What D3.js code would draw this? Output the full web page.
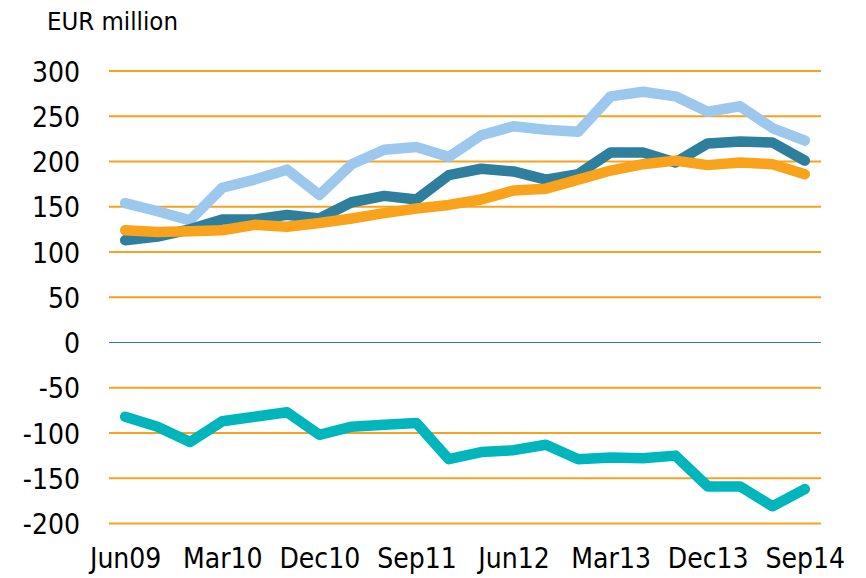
<!DOCTYPE html>
<html>
<head>
<meta charset="utf-8">
<script src="https://cdn.jsdelivr.net/npm/d3@7"></script>
<style>
  html, body { margin: 0; padding: 0; background: #fff; }
  svg text { font-family: "DejaVu Sans Condensed", "DejaVu Sans", sans-serif; fill: #000; }
</style>
</head>
<body>
<svg id="chart" width="866" height="578"></svg>
<script>
// Quarterly periods, Jun09 .. Sep14
const quarters = [
  "Jun09","Sep09","Dec09","Mar10","Jun10","Sep10","Dec10","Mar11","Jun11","Sep11","Dec11",
  "Mar12","Jun12","Sep12","Dec12","Mar13","Jun13","Sep13","Dec13","Mar14","Jun14","Sep14"
];
const tickLabels = ["Jun09","Mar10","Dec10","Sep11","Jun12","Mar13","Dec13","Sep14"];
const yTicks = [-200, -150, -100, -50, 0, 50, 100, 150, 200, 250, 300];

// EUR million
const lightBlueSeries = [154, 145, 135, 171, 180, 191, 163, 197, 213, 216, 205,
                         229, 239, 235, 233, 272, 277, 272, 255, 261, 237, 223];
const darkTealSeries  = [113, 117, 125, 136, 136, 141, 137, 155, 162, 158, 185,
                         192, 189, 180, 186, 210, 210, 199, 220, 222, 221, 201];
const orangeSeries    = [124, 122, 123, 124, 130, 128, 132, 137, 143, 148, 152,
                         158, 168, 170, 180, 190, 197, 201, 196, 199, 197, 186];
const turquoiseSeries = [-82, -93, -110, -87, -82, -77, -102, -93, -91, -89, -129,
                         -121, -119, -113, -129, -127, -128, -125, -159, -159, -181, -162];

const series = [
  { values: lightBlueSeries, color: "#9DC8EE" },
  { values: darkTealSeries,  color: "#2E7F9E" },
  { values: orangeSeries,    color: "#F9A21B" },
  { values: turquoiseSeries, color: "#00B5BC" }
];

const svg = d3.select("#chart");
const plotLeft = 109, plotRight = 821, plotTop = 71, plotBottom = 523.5;

const x = d3.scalePoint().domain(quarters).range([plotLeft, plotRight]).padding(0.5);
const y = d3.scaleLinear().domain([-200, 300]).range([plotBottom, plotTop]);

// Horizontal gridlines
svg.append("g").selectAll("line")
  .data(yTicks.filter(d => d !== 0))
  .join("line")
  .attr("x1", plotLeft).attr("x2", plotRight)
  .attr("y1", d => y(d)).attr("y2", d => y(d))
  .attr("stroke", "#F9A21B").attr("stroke-width", 2);

// Zero line
svg.append("line")
  .attr("x1", plotLeft).attr("x2", plotRight)
  .attr("y1", y(0)).attr("y2", y(0))
  .attr("stroke", "#2E7F9E").attr("stroke-width", 1);

// Y axis labels (plain hyphen for negatives)
const yAxis = d3.axisLeft(y).tickValues(yTicks).tickSize(0).tickPadding(0)
  .tickFormat(d => String(d));
const gy = svg.append("g").attr("transform", "translate(80,0)").call(yAxis);
gy.select(".domain").remove();
gy.selectAll("text").attr("font-size", 28).attr("dy", "0.36em")
  .style("font-family", "'DejaVu Sans Condensed', sans-serif");

// X axis labels
const xAxis = d3.axisBottom(x).tickValues(tickLabels).tickSize(0).tickPadding(0);
const gx = svg.append("g").attr("transform", "translate(0,548)").call(xAxis);
gx.select(".domain").remove();
gx.selectAll("text").attr("font-size", 28).attr("dy", "0.71em")
  .style("font-family", "'DejaVu Sans Condensed', sans-serif");

// Series lines
const line = d3.line().x((d, i) => x(quarters[i])).y(d => y(d));
svg.append("g").selectAll("path")
  .data(series)
  .join("path")
  .attr("d", d => line(d.values))
  .attr("fill", "none")
  .attr("stroke", d => d.color)
  .attr("stroke-width", 10.5)
  .attr("stroke-linejoin", "round")
  .attr("stroke-linecap", "round");

// Unit label
svg.append("text")
  .attr("x", 47).attr("y", 30)
  .attr("font-size", 25.5)
  .text("EUR million");
</script>
</body>
</html>
